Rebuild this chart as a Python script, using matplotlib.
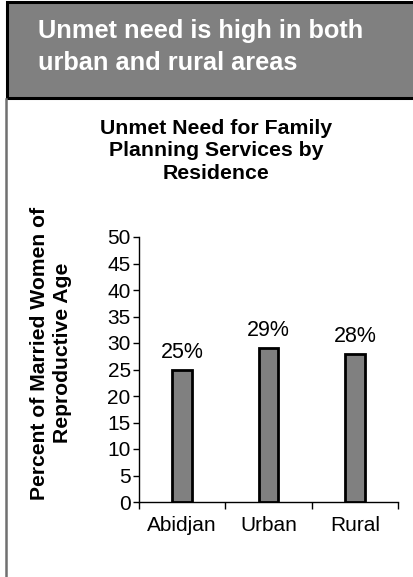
import matplotlib
matplotlib.use("Agg")
import matplotlib.pyplot as plt
from matplotlib.patches import Rectangle
from matplotlib.lines import Line2D

categories = ["Abidjan", "Urban", "Rural"]
unmet_need = [25, 29, 28]
y_ticks = [0, 5, 10, 15, 20, 25, 30, 35, 40, 45, 50]

headline = "Unmet need is high in both\nurban and rural areas"
chart_title = "Unmet Need for Family\nPlanning Services by\nResidence"
y_label = "Percent of Married Women of\nReproductive Age"

plt.rcParams["font.family"] = ["Liberation Sans", "DejaVu Sans"]

W, H = 414, 577
fig = plt.figure(figsize=(W / 100, H / 100), dpi=100)

def fx(px):
    return px / W

def fy(py):
    return 1 - py / H

# Headline banner
fig.patches.append(Rectangle((fx(7), fy(98)), fx(420) - fx(7), fy(2) - fy(98),
                             transform=fig.transFigure, facecolor="#808080",
                             edgecolor="black", linewidth=2.2, zorder=1))
fig.text(fx(38), fy(47), headline, color="white", fontsize=18.3,
         fontweight="bold", ha="left", va="center", linespacing=1.38)

# Thin frame line down the left side
fig.lines.append(Line2D([fx(6), fx(6)], [fy(99), fy(577)],
                        transform=fig.transFigure, color="#707070", linewidth=1.8))

# Chart title
fig.text(fx(216), fy(151), chart_title, fontsize=15.3, fontweight="bold",
         ha="center", va="center", linespacing=1.25)

# Y-axis label
fig.text(fx(51), fy(353), y_label, fontsize=15.2, fontweight="bold",
         ha="center", va="center", rotation=90, linespacing=1.22)

ax = fig.add_axes([fx(139), fy(502), fx(398) - fx(139), fy(237) - fy(502)])
x = list(range(len(categories)))
bars = ax.bar(x, unmet_need, width=0.23, color="#808080", edgecolor="black",
              linewidth=2, zorder=3)
for xi, v in zip(x, unmet_need):
    ax.annotate(f"{v}%", (xi, v), xytext=(0, 5), textcoords="offset points",
                ha="center", va="bottom", fontsize=15.5)

ax.set_xlim(-0.5, len(categories) - 0.5)
ax.set_ylim(0, 50)
ax.set_yticks(y_ticks)
ax.set_yticklabels([str(t) for t in y_ticks], fontsize=15)
ax.set_xticks([i - 0.5 for i in range(len(categories) + 1)])
ax.set_xticklabels([])
ax.set_xticks(x, minor=True)
ax.set_xticklabels(categories, minor=True, fontsize=15)
ax.tick_params(axis="x", which="minor", length=0, pad=10)
ax.tick_params(axis="x", which="major", length=5, width=1, direction="out")
ax.tick_params(axis="y", length=4, width=1, direction="out", pad=2)
for side in ("top", "right"):
    ax.spines[side].set_visible(False)
for side in ("left", "bottom"):
    ax.spines[side].set_linewidth(1)
ax.patch.set_alpha(0)

fig.savefig("out.png", dpi=100)
